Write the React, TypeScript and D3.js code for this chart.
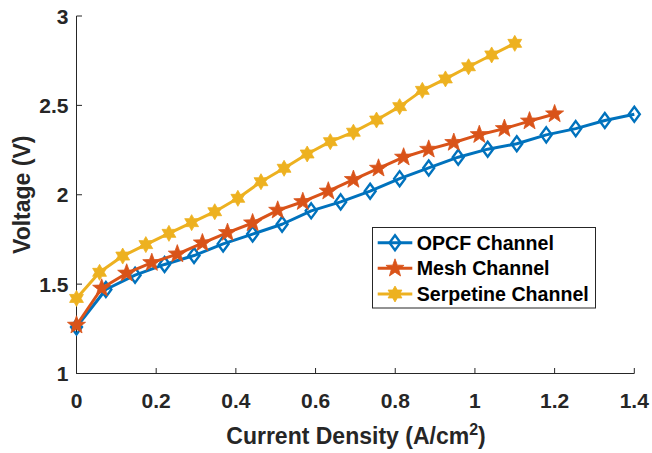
import React from "react";
import * as d3 from "d3";

// Current density (A/cm^2) and cell voltage (V) for each channel design
const opcfCurrent = [0, 0.0737, 0.147, 0.221, 0.295, 0.368, 0.442, 0.516, 0.589, 0.663, 0.737, 0.811, 0.884, 0.958, 1.032, 1.105, 1.179, 1.253, 1.326, 1.4];
const opcfVoltage = [1.26, 1.47, 1.55, 1.61, 1.66, 1.725, 1.78, 1.835, 1.91, 1.96, 2.02, 2.09, 2.15, 2.21, 2.255, 2.285, 2.335, 2.37, 2.415, 2.45];

const meshCurrent = [0, 0.0632, 0.126, 0.189, 0.253, 0.316, 0.379, 0.442, 0.505, 0.568, 0.632, 0.695, 0.758, 0.821, 0.884, 0.947, 1.011, 1.074, 1.137, 1.2];
const meshVoltage = [1.27, 1.477, 1.561, 1.62, 1.668, 1.73, 1.788, 1.842, 1.913, 1.961, 2.02, 2.085, 2.148, 2.21, 2.254, 2.292, 2.336, 2.37, 2.412, 2.452];

const serpCurrent = [0, 0.0579, 0.116, 0.174, 0.232, 0.289, 0.347, 0.405, 0.463, 0.521, 0.579, 0.637, 0.695, 0.753, 0.811, 0.868, 0.926, 0.984, 1.042, 1.1];
const serpVoltage = [1.42, 1.566, 1.657, 1.721, 1.784, 1.844, 1.905, 1.98, 2.073, 2.148, 2.228, 2.297, 2.35, 2.418, 2.493, 2.584, 2.648, 2.716, 2.782, 2.847];

const xTicks = [0, 0.2, 0.4, 0.6, 0.8, 1, 1.2, 1.4];
const yTicks = [1, 1.5, 2, 2.5, 3];

const seriesNames = ["OPCF Channel", "Mesh Channel", "Serpetine Channel"];

const W = 652;
const H = 453;
const left = 76.5;
const right = 634.3;
const top = 16;
const bottom = 373.5;

const FONT = "'Liberation Sans', Arial, Helvetica, sans-serif";
const AXIS = "#262626";

type Marker = "diamond" | "pentagram" | "hexagram";

function starPath(points: number, rOuter: number, rInner: number): string {
  const pts: [number, number][] = [];
  for (let i = 0; i < points * 2; i++) {
    const r = i % 2 === 0 ? rOuter : rInner;
    const a = -Math.PI / 2 + (i * Math.PI) / points;
    pts.push([r * Math.cos(a), r * Math.sin(a)]);
  }
  return "M" + pts.map((p) => p[0].toFixed(2) + "," + p[1].toFixed(2)).join("L") + "Z";
}

function markerEl(kind: Marker, color: string, x: number, y: number, key: string | number) {
  if (kind === "diamond") {
    return (
      <path
        key={key}
        transform={`translate(${x},${y})`}
        d="M0,-7.5L5.5,0L0,7.5L-5.5,0Z"
        fill="none"
        stroke={color}
        strokeWidth={2.4}
      />
    );
  }
  if (kind === "pentagram") {
    return (
      <path key={key} transform={`translate(${x},${y})`} d={starPath(5, 9.5, 3.9)} fill={color} stroke={color} strokeWidth={0.8} />
    );
  }
  return (
    <path key={key} transform={`translate(${x},${y})`} d={starPath(6, 8, 4.6)} fill={color} stroke={color} strokeWidth={0.8} />
  );
}

export default function App() {
  const x = d3.scaleLinear().domain([0, 1.4]).range([left, right]);
  const y = d3.scaleLinear().domain([1, 3]).range([bottom, top]);

  const series = [
    { name: seriesNames[0], xs: opcfCurrent, ys: opcfVoltage, color: "#0072BD", marker: "diamond" as Marker },
    { name: seriesNames[1], xs: meshCurrent, ys: meshVoltage, color: "#D95319", marker: "pentagram" as Marker },
    { name: seriesNames[2], xs: serpCurrent, ys: serpVoltage, color: "#EDB120", marker: "hexagram" as Marker },
  ];

  const line = d3
    .line<[number, number]>()
    .x((d) => x(d[0]))
    .y((d) => y(d[1]));

  const legX = 372.5;
  const legY = 227.5;
  const legW = 223;
  const legH = 80.5;
  const rowY = [242.7, 268.3, 294];

  return (
    <svg width={W} height={H} style={{ position: "absolute", left: 0, top: 0, background: "#fff" }} fontFamily={FONT}>
      <rect width={W} height={H} fill="#fff" />

      {/* axes */}
      <line x1={left} x2={left} y1={top} y2={bottom} stroke={AXIS} strokeWidth={1} />
      <line x1={left} x2={right} y1={bottom} y2={bottom} stroke={AXIS} strokeWidth={1} />

      {xTicks.map((t) => (
        <g key={"x" + t}>
          <line x1={x(t)} x2={x(t)} y1={bottom} y2={bottom - 5.5} stroke={AXIS} strokeWidth={1} />
          <text x={x(t)} y={bottom + 34} textAnchor="middle" fontSize={21} fontWeight="bold" fill={AXIS}>
            {String(t)}
          </text>
        </g>
      ))}
      {yTicks.map((t) => (
        <g key={"y" + t}>
          <line x1={left} x2={left + 5.5} y1={y(t)} y2={y(t)} stroke={AXIS} strokeWidth={1} />
          <text x={left - 8} y={y(t)} dy="0.36em" textAnchor="end" fontSize={21} fontWeight="bold" fill={AXIS}>
            {String(t)}
          </text>
        </g>
      ))}

      {/* axis titles */}
      <text x={356} y={444} textAnchor="middle" fontSize={23} fontWeight="bold" fill={AXIS}>
        Current Density (A/cm
        <tspan dy={-9} fontSize={16}>2</tspan>
        <tspan dy={9}>)</tspan>
      </text>
      <text
        transform={`translate(30,${(top + bottom) / 2}) rotate(-90)`}
        textAnchor="middle"
        fontSize={23}
        fontWeight="bold"
        fill={AXIS}
      >
        Voltage (V)
      </text>

      {/* series */}
      {series.map((s) => {
        const pts = s.xs.map((v, i) => [v, s.ys[i]] as [number, number]);
        return (
          <g key={s.name}>
            <path d={line(pts) || ""} fill="none" stroke={s.color} strokeWidth={3} strokeLinejoin="round" />
            {pts.map((p, i) => markerEl(s.marker, s.color, x(p[0]), y(p[1]), i))}
          </g>
        );
      })}

      {/* legend */}
      <rect x={legX} y={legY} width={legW} height={legH} fill="#fff" stroke={AXIS} strokeWidth={1} />
      {series.map((s, i) => (
        <g key={"leg" + s.name}>
          <line x1={377.7} x2={412.3} y1={rowY[i]} y2={rowY[i]} stroke={s.color} strokeWidth={3} />
          {markerEl(s.marker, s.color, 395, rowY[i], "m" + i)}
          <text x={416.7} y={rowY[i]} dy="0.36em" fontSize={19.6} fontWeight="bold" fill="#000">
            {s.name}
          </text>
        </g>
      ))}
    </svg>
  );
}
